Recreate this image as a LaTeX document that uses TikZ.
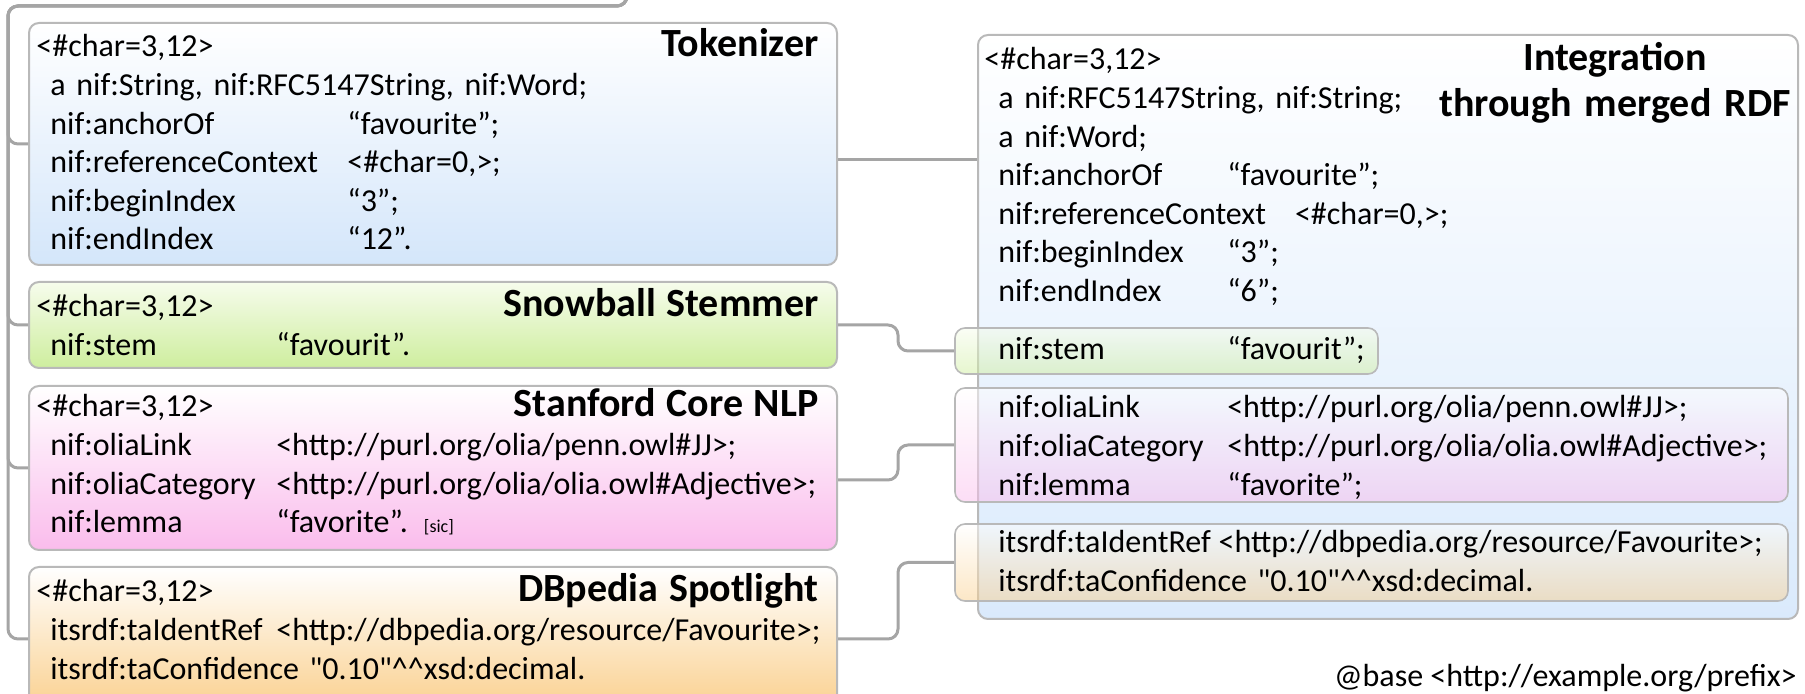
\documentclass[tikz,border=0pt]{standalone}
\usepackage{fontspec}
\setmainfont{Carlito}[Ligatures=TeXOff]
\usetikzlibrary{fit}
\definecolor{boxBorder}{RGB}{185,185,185}
\definecolor{linkColor}{RGB}{165,165,165}
\definecolor{tokenizerColor}{RGB}{212,230,250}
\definecolor{integrationColor}{RGB}{218,234,252}
\definecolor{stemmerTop}{RGB}{246,252,236}
\definecolor{stemmerColor}{RGB}{206,238,158}
\definecolor{stanfordColor}{RGB}{250,188,236}
\definecolor{spotlightColor}{RGB}{250,208,142}
\newcommand{\propName}[2]{\makebox[#1][l]{#2}}
\newcommand{\titleFont}{\fontsize{20pt}{23pt}\selectfont\bfseries}

\begin{document}
\begin{tikzpicture}[x=0.5pt,y=-0.5pt]

          \tikzstyle{toolBox} = [draw=boxBorder, line width=1pt, rounded corners=5pt, inner sep=0pt];
          \tikzstyle{partBox} = [draw=boxBorder, line width=0.8pt, rounded corners=5pt, inner sep=0pt, fill opacity=0.5];
          \tikzstyle{boxText} = [anchor=base west, inner sep=0pt, align=left, text width=391pt, font=\fontsize{16pt}{19.3pt}\selectfont];
          \tikzstyle{plainText} = [inner sep=0pt, font=\fontsize{16pt}{19.3pt}\selectfont];
          \tikzstyle{linkEdge} = [draw=linkColor, line width=1.5pt, rounded corners=5pt];

          \useasboundingbox (0,0) rectangle (1805,694);

          \node[toolBox, top color=white, bottom color=tokenizerColor, fit={(29,23) (837,265)}] (tokenizer) {};
          \node[toolBox, top color=stemmerTop, bottom color=stemmerColor, fit={(29,282) (837,368)}] (stemmer) {};
          \node[toolBox, top color=white, bottom color=stanfordColor, fit={(29,386) (837,550)}] (stanford) {};
          \node[toolBox, top color=white, bottom color=spotlightColor, fit={(29,567) (837,711)}] (spotlight) {};
          \node[toolBox, top color=white, bottom color=integrationColor, fit={(978,35) (1798,619)}] (integration) {};
          \node[partBox, top color=stemmerTop, bottom color=stemmerColor, fit={(955,328) (1378,374)}] (stemPart) {};
          \node[partBox, top color=white, bottom color=stanfordColor, fit={(955,388) (1788,502)}] (oliaPart) {};
          \node[partBox, top color=white, bottom color=spotlightColor, fit={(955,524) (1788,601)}] (spotlightPart) {};

          \node[boxText] (tokenizerText) at (36,57) {<\#char=3,12>\hfill{\titleFont Tokenizer}\\
            \hspace*{7pt}a nif:String, nif:RFC5147String, nif:Word;\\
            \hspace*{7pt}\propName{148.5pt}{nif:anchorOf}“favourite”;\\
            \hspace*{7pt}\propName{148.5pt}{nif:referenceContext}<\#char=0,>;\\
            \hspace*{7pt}\propName{148.5pt}{nif:beginIndex}“3”;\\
            \hspace*{7pt}\propName{148.5pt}{nif:endIndex}“12”.};
          \node[boxText] (stemmerText) at (36,317) {<\#char=3,12>\hfill{\titleFont Snowball Stemmer}\\
            \hspace*{7pt}\propName{113pt}{nif:stem}“favourit”.};
          \node[boxText] (stanfordText) at (36,417) {<\#char=3,12>\hfill{\titleFont Stanford Core NLP}\\
            \hspace*{7pt}\propName{113pt}{nif:oliaLink}<http://purl.org/olia/penn.owl\#JJ>;\\
            \hspace*{7pt}\propName{113pt}{nif:oliaCategory}<http://purl.org/olia/olia.owl\#Adjective>;\\
            \hspace*{7pt}\propName{113pt}{nif:lemma}“favorite”. {\fontsize{9pt}{10pt}\selectfont [sic]}};
          \node[boxText] (spotlightText) at (36,602) {<\#char=3,12>\hfill{\titleFont DBpedia Spotlight}\\
            \hspace*{7pt}\propName{113pt}{itsrdf:taIdentRef}<http://dbpedia.org/resource/Favourite>;\\
            \hspace*{7pt}itsrdf:taConfidence "0.10"\textasciicircum\textasciicircum xsd:decimal.};

          \node[boxText] (integrationText) at (984,70) {<\#char=3,12>\\
            \hspace*{7pt}a nif:RFC5147String, nif:String;\\
            \hspace*{7pt}a nif:Word;\\
            \hspace*{7pt}\propName{114.5pt}{nif:anchorOf}“favourite”;\\
            \hspace*{7pt}nif:referenceContext\hspace{14.5pt}<\#char=0,>;\\
            \hspace*{7pt}\propName{114.5pt}{nif:beginIndex}“3”;\\
            \hspace*{7pt}\propName{114.5pt}{nif:endIndex}“6”;};
          \node[anchor=base, inner sep=0pt, align=center, text width=200pt, font=\titleFont] (integrationTitle) at (1615,71) {Integration\\through merged RDF};
          \node[boxText] (stemPartText) at (998,360) {\propName{114.5pt}{nif:stem}“favourit”;};
          \node[boxText] (oliaPartText) at (998,418) {\propName{114.5pt}{nif:oliaLink}<http://purl.org/olia/penn.owl\#JJ>;\\
            \propName{114.5pt}{nif:oliaCategory}<http://purl.org/olia/olia.owl\#Adjective>;\\
            \propName{114.5pt}{nif:lemma}“favorite”;};
          \node[boxText] (spotlightPartText) at (998,553) {itsrdf:taIdentRef\hspace{4pt}<http://dbpedia.org/resource/Favourite>;\\
            itsrdf:taConfidence "0.10"\textasciicircum\textasciicircum xsd:decimal.};
          \node[plainText, anchor=base east] (basePrefix) at (1797,687) {@base <http://example.org/prefix>};

          % tree on the left
          \coordinate (root) at (627,-30);
          \coordinate (trunk) at (8,6);
          \draw[linkEdge] (root) |- (trunk) |- (tokenizer.west);
          \draw[linkEdge] (root) |- (trunk) |- (stemmer.west);
          \draw[linkEdge] (root) |- (trunk) |- (stanford.west);
          \draw[linkEdge] (root) |- (trunk) |- (spotlight.west);

          % links into the merged graph
          \coordinate (tokenizerOut) at ([yshift=-8pt]tokenizer.east);
          \coordinate (stanfordOut) at ([yshift=-6pt]stanford.east);
          \draw[linkEdge] (tokenizerOut) -- (tokenizerOut -| integration.west);
          \draw[linkEdge] (stemmer.east) -- ++(60,0) |- (stemPart.west);
          \draw[linkEdge] (stanfordOut) -- ++(60,0) |- (oliaPart.west);
          \draw[linkEdge] (spotlight.east) -- ++(60,0) |- (spotlightPart.west);
        \end{tikzpicture}
\end{document}
